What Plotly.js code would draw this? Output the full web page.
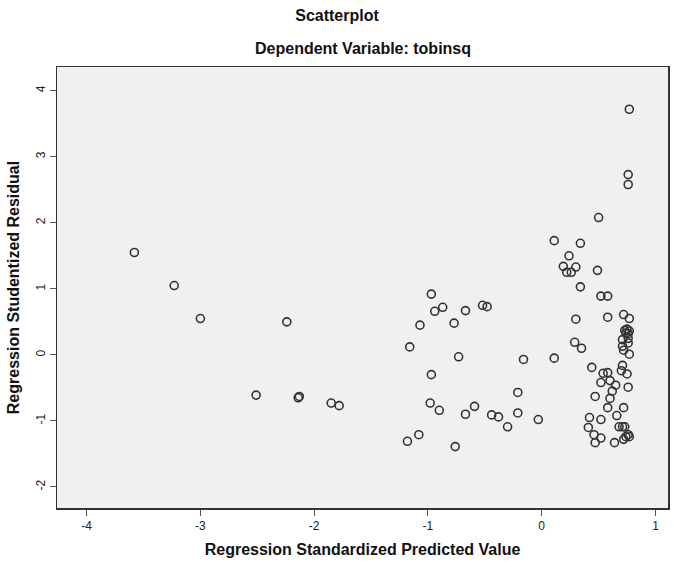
<!DOCTYPE html>
<html>
<head>
<meta charset="utf-8">
<script src="https://cdn.plot.ly/plotly-3.0.1.min.js"></script>
<style>
  html, body { margin: 0; padding: 0; background: #ffffff; }
  #chart { width: 674px; height: 567px; }
</style>
</head>
<body>
<div id="chart"></div>
<script>
// Regression Standardized Predicted Value (x)
var predictedValue = [
  -3.58, -3.23, -3.00, -2.24, -2.51, -2.14, -2.13, -1.85, -1.78,
  -0.97, -0.94, -0.87, -0.67, -0.52, -0.48, -1.07, -0.77, -1.16, -0.73,
  -0.16, -0.97, -0.21, -0.98, -0.90, -0.67, -0.59, -0.44, -0.38, -0.21,
  -0.03, -0.30, -1.08, -1.18, -0.76,
  0.77, 0.76, 0.76, 0.50, 0.11, 0.34, 0.24, 0.19, 0.30, 0.22, 0.26,
  0.49, 0.34, 0.52, 0.58,
  0.30, 0.58, 0.72, 0.77, 0.73, 0.75, 0.77, 0.74, 0.76, 0.76, 0.71,
  0.76, 0.71, 0.72, 0.77, 0.29, 0.35, 0.11, 0.44, 0.54, 0.58, 0.71,
  0.70, 0.75, 0.52, 0.60, 0.65, 0.76, 0.62, 0.47, 0.60, 0.58, 0.72,
  0.66, 0.42, 0.52, 0.41, 0.68, 0.71, 0.73, 0.76, 0.74, 0.77, 0.72,
  0.46, 0.52, 0.47, 0.64
];
// Regression Studentized Residual (y)
var studentizedResidual = [
  1.55, 1.05, 0.55, 0.50, -0.61, -0.65, -0.63, -0.73, -0.77,
  0.92, 0.66, 0.72, 0.67, 0.75, 0.73, 0.45, 0.48, 0.12, -0.03,
  -0.07, -0.30, -0.57, -0.73, -0.84, -0.90, -0.78, -0.91, -0.94, -0.88,
  -0.98, -1.09, -1.21, -1.31, -1.39,
  3.72, 2.73, 2.58, 2.08, 1.73, 1.69, 1.50, 1.34, 1.33, 1.25, 1.25,
  1.28, 1.03, 0.89, 0.89,
  0.54, 0.57, 0.61, 0.55, 0.37, 0.39, 0.36, 0.33, 0.32, 0.25, 0.23,
  0.18, 0.13, 0.07, 0.01, 0.19, 0.10, -0.05, -0.19, -0.28, -0.27, -0.16,
  -0.24, -0.29, -0.42, -0.39, -0.46, -0.49, -0.55, -0.63, -0.66, -0.80, -0.80,
  -0.92, -0.95, -0.98, -1.10, -1.09, -1.09, -1.09, -1.21, -1.24, -1.24, -1.28,
  -1.21, -1.26, -1.33, -1.33
];
var xTicks = [-4, -3, -2, -1, 0, 1];
var yTicks = [-2, -1, 0, 1, 2, 3, 4];

var trace = {
  x: predictedValue,
  y: studentizedResidual,
  type: 'scatter',
  mode: 'markers',
  marker: {
    symbol: 'circle-open',
    size: 8,
    color: '#333333',
    line: { width: 1.6, color: '#333333' }
  },
  hoverinfo: 'x+y'
};

var font = "'Liberation Sans', Arial, sans-serif";

var layout = {
  width: 674,
  height: 567,
  margin: { l: 57, r: 6, t: 67, b: 59 },
  paper_bgcolor: '#ffffff',
  plot_bgcolor: '#f0f0f0',
  showlegend: false,
  font: { family: font, color: '#111111', size: 11 },
  title: {
    text: '<b>Scatterplot</b>',
    font: { family: font, size: 16, color: '#111111' },
    x: 0.5, xanchor: 'center',
    y: 1 - 15 / 567, yanchor: 'middle'
  },
  annotations: [{
    text: '<b>Dependent Variable: tobinsq</b>',
    xref: 'paper', yref: 'paper',
    x: 0.5, xanchor: 'center',
    y: 1 + (67 - 48) / (567 - 67 - 59), yanchor: 'middle',
    showarrow: false,
    font: { family: font, size: 16, color: '#111111' }
  }],
  xaxis: {
    range: [-4.26, 1.11],
    tickvals: xTicks,
    ticktext: xTicks.map(String),
    ticks: 'outside',
    ticklen: 6,
    tickwidth: 1,
    tickcolor: '#555555',
    tickfont: { family: font, size: 12, color: '#222222' },
    showgrid: false,
    zeroline: false,
    showline: true,
    mirror: true,
    linecolor: '#333333',
    linewidth: 1.5,
    title: {
      text: '<b>Regression Standardized Predicted Value</b>',
      font: { family: font, size: 16, color: '#111111' },
      standoff: 12
    }
  },
  yaxis: {
    range: [-2.32, 4.36],
    tickvals: yTicks,
    ticktext: yTicks.map(String),
    tickangle: -90,
    ticks: 'outside',
    ticklen: 6,
    tickwidth: 1,
    tickcolor: '#555555',
    tickfont: { family: font, size: 12, color: '#222222' },
    showgrid: false,
    zeroline: false,
    showline: true,
    mirror: true,
    linecolor: '#333333',
    linewidth: 1.5,
    title: {
      text: '<b>Regression Studentized Residual</b>',
      font: { family: font, size: 16, color: '#111111' },
      standoff: 10
    }
  }
};

Plotly.newPlot('chart', [trace], layout, { displayModeBar: false, staticPlot: true });
</script>
</body>
</html>
